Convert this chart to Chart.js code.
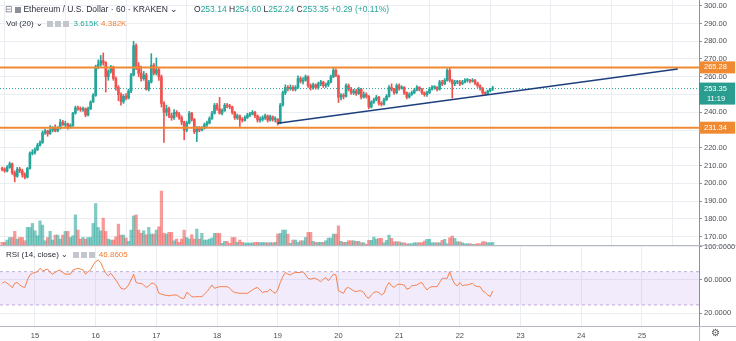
<!DOCTYPE html>
<html>
<head>
<meta charset="utf-8">
<script src="https://cdn.jsdelivr.net/npm/chart.js@4.4.0/dist/chart.umd.min.js"></script>
<style>
body { margin: 0; background: #fff; font-family: "Liberation Sans", Arial, sans-serif; }
#wrap { position: relative; width: 736px; height: 341px; overflow: hidden; }
canvas { position: absolute; left: 0; }
.lg { position: absolute; font-size: 8.5px; color: #2a2e39; white-space: nowrap; }
.ic { display: inline-block; width: 6px; height: 6px; background: #c3c6cc; margin-right: 2px; vertical-align: -1px; }
.up { color: #26a69a; }
.or { color: #f57c2e; }
.line { position: absolute; background: #b5b8c0; }
</style>
</head>
<body>
<div id="wrap">
  <canvas id="price" width="736" height="245" style="top:0"></canvas>
  <canvas id="rsi" width="736" height="103" style="top:238px"></canvas>
  <div class="line" style="left:0;top:245px;width:736px;height:1px"></div>
  <div class="line" style="left:0;top:326px;width:736px;height:1px"></div>
  <div class="line" style="left:699px;top:326px;width:1px;height:15px"></div>

  <div class="lg" style="left:5px;top:4px"><span style="color:#787b86">&#8863;</span> <span class="ic" style="background:#8b8e96"></span>Ethereum / U.S. Dollar · 60 · KRAKEN &#8964;</div>
  <div class="lg" style="left:194px;top:4px">O<span class="up">253.14</span> H<span class="up">254.60</span> L<span class="up">252.24</span> C<span class="up">253.35</span> <span class="up">+0.29 (+0.11%)</span></div>
  <div class="lg" style="left:6px;top:19px;font-size:8px">Vol (20) &#8964; &nbsp;<span class="ic"></span><span class="ic"></span><span class="ic"></span> <span class="up">3.615K</span> <span class="or">4.382K</span></div>
  <div class="lg" style="left:6px;top:250px;font-size:8px">RSI (14, close) &#8964; &nbsp;<span class="ic"></span><span class="ic"></span><span class="ic"></span> <span class="or">46.8605</span></div>
  <div class="lg" style="left:711px;top:327px;font-size:10px;color:#555">&#9881;</div>
</div>

<script>
// hourly bars, first bar = 14th 11:00
const startDay = 14 + 11 / 24;
const days = [15, 16, 17, 18, 19, 20, 21, 22, 23, 24, 25];
const priceTicks = [170, 180, 190, 200, 210, 220, 230, 240, 250, 260, 270, 280, 290, 300];
const rsiTicks = [20, 60, 100];

const firstOpen = 208.5;
const closes = [
  208, 207, 209, 211, 206, 204, 208, 207, 205, 203.5,
  208.5, 217, 217.5, 219, 221.5, 223, 228.5, 229.5, 228, 230,
  231, 229.5, 231, 234.5, 233, 233.5, 232, 232.5, 239.5, 242.5,
  242, 241.5, 242, 238.5, 242, 245.8, 249.5, 265.5, 267, 269,
  268, 260, 263, 265.5, 259, 254, 250, 246, 249, 248,
  252, 261, 277.5, 266, 262, 259, 261, 253, 257, 266.5,
  262, 264, 260, 245, 240, 242, 238, 237, 240, 239,
  237, 234.5, 230, 234, 239.5, 236, 229, 231, 230, 231,
  233, 234, 236.5, 239.5, 244, 242, 239.5, 241, 244, 243.5,
  243, 240, 237, 238, 236, 235.5, 237, 238.5, 239, 240,
  238, 235.6, 236, 237, 238, 235.6, 237.5, 236, 236, 234,
  244, 251, 254, 253.5, 254, 253, 254, 259, 257.5, 258,
  260, 255, 254, 255.5, 254, 256, 257, 255, 255.5, 257,
  260, 263.6, 260.5, 248.5, 249.5, 249, 255, 253, 251, 252,
  250.5, 253, 248.6, 250, 249, 243, 245.8, 247, 248.5, 245,
  244.5, 247, 249, 254, 253, 251, 255, 253.5, 254, 251,
  248.6, 250, 251, 252.5, 254, 253, 251, 250, 251, 253,
  254, 254, 253, 257, 256, 258, 263.6, 258, 256, 257,
  257, 256, 257, 258, 258, 257.5, 258, 256.5, 255, 253.6,
  251, 250.5, 252, 253.14, 253.35
];
const highs = [
  209.2, 208.8, 210, 212, 211.5, 207, 209, 209, 208, 206,
  209, 217.8, 219, 220, 222.5, 224, 229.5, 230.5, 230, 232.5,
  232, 233, 232, 236, 235.5, 235, 234, 233.5, 240, 243.5,
  243.5, 243, 243, 242.5, 243, 246.5, 250.5, 266.5, 269.5, 272,
  273.4, 268.5, 264, 266.5, 266, 260, 255, 251, 250, 250.5,
  253, 262, 280, 278.5, 268, 266, 263, 262, 258, 273,
  267.5, 270.6, 265, 261, 246, 244, 243, 239.5, 241.5, 241,
  240, 238, 235, 235, 240.5, 240, 236.5, 232, 232, 232,
  234, 235, 237.5, 240.5, 245, 245, 248.4, 242, 245, 245,
  244.5, 243.5, 240.5, 239, 238.5, 237, 238, 239.5, 240, 241,
  240.5, 238.5, 237.5, 238, 239, 238.5, 238.5, 238, 237.5, 236.5,
  245, 252, 255.5, 255, 255.5, 255, 255, 260.5, 260, 259.5,
  261, 260.5, 256, 256.5, 256, 257, 258, 257.5, 256.5, 258,
  261, 265, 264.5, 261, 250.5, 250.5, 256, 256, 254, 253,
  253, 254, 253.5, 251.5, 251, 249.5, 246.5, 248, 249.5, 249,
  246, 248, 250, 255, 256, 253.5, 256, 256, 255, 254.5,
  251.5, 251, 252, 253.5, 255, 254.5, 253.5, 251.5, 252, 254,
  255, 255, 254.5, 258, 258, 259, 264.5, 265, 258.5, 258,
  258, 258, 258, 259, 259, 258.5, 259, 258.5, 257, 255.5,
  254, 251.5, 252.5, 253.5, 254.6
];
const lows = [
  207, 206.2, 206.5, 208.5, 205, 200.8, 203.5, 206, 203.5, 202.5,
  203, 208, 216, 216.5, 218.5, 221, 222.5, 227.5, 226.5, 227.5,
  229, 229, 229, 230.5, 232.5, 232, 230.5, 231, 232, 239,
  241, 240.5, 240.5, 237.5, 238, 241.5, 245.5, 249, 264.5, 266,
  266.5, 251.4, 258, 262, 258, 252.5, 246.5, 244, 245, 247,
  247.5, 251, 260.5, 264, 260, 257.5, 258, 252.5, 252, 256.5,
  261, 261, 258, 243, 223, 238, 237, 235.5, 236, 237.5,
  236, 233, 224.5, 229, 233.5, 235, 228, 223.5, 229, 229.5,
  230.5, 232, 233.5, 236, 239, 241, 239, 238.5, 240.5, 242.5,
  242, 239, 236, 236, 232, 234.5, 235, 236.5, 237.5, 238.5,
  237, 234.5, 234.5, 235, 236, 234.5, 235, 235, 234.5, 232.8,
  233.5, 243.5, 250, 252, 252.5, 252, 252, 253.5, 256.5, 256,
  257.5, 254, 252.5, 253, 253, 253, 255, 254, 254, 254.5,
  256.5, 259.5, 260, 245.5, 247, 247.5, 248.5, 252, 250, 250,
  249.5, 250, 247.5, 248, 248, 242, 242.5, 245, 246.5, 244,
  243.5, 244, 246.5, 248.5, 252, 250, 250.5, 252.5, 253, 250,
  247.5, 248, 249.5, 250.5, 252, 252, 250, 249, 249, 250.5,
  252.5, 253, 252, 252.5, 255, 255.5, 257.5, 257, 248, 255,
  256, 255, 255.5, 256.5, 257, 256.5, 257, 255.5, 254, 252.5,
  250, 249.5, 250, 251.5, 252.24
];
// volume in K
const volumes = [
  3.8, 3.8, 7, 10.6, 10.6, 19.2, 8.4, 10.6, 10.6, 6,
  24.8, 24.8, 30.4, 20, 13, 34, 28, 6, 10.6, 19.2,
  7, 14, 14, 8.4, 14, 19.2, 19.2, 10.6, 13, 42.4,
  21, 8.4, 10.6, 8.4, 10.6, 10.6, 30.4, 58.4, 24.8, 20,
  37.8, 19.2, 8.4, 7, 7, 11.6, 29.4, 14, 14, 9.8,
  5.2, 21, 41, 42.4, 21, 16.4, 20, 14.4, 24.8, 15.4,
  15.4, 21, 25.6, 76, 16.4, 15.4, 17.8, 17.8, 6, 8.4,
  3.8, 8.4, 21, 10.6, 8.4, 14.4, 8.4, 22.4, 8.4, 16.4,
  7, 7, 8.4, 9.8, 16.4, 16.4, 16.4, 2.4, 5.2, 5.2,
  2.4, 10.6, 10.6, 3.8, 7, 3.8, 2.8, 2.8, 2.8, 2.8,
  3.8, 3.8, 3.5, 3.5, 3.5, 3.1, 3.5, 3.1, 3.8, 15.4,
  16.4, 21, 21, 15.4, 2.4, 7, 7, 3.8, 6, 6,
  10.6, 17.8, 17.8, 5.2, 3.8, 3.8, 3.8, 3.8, 6, 9.8,
  9.8, 15.4, 15.4, 27, 5.2, 3.8, 3.8, 6, 6, 6,
  5.2, 5.2, 3.2, 3.2, 1, 6.6, 6.6, 11.2, 8, 9.4,
  9.4, 3.2, 6.6, 14, 9.4, 4.6, 4.6, 4.6, 3.2, 3.2,
  1.8, 1.8, 1.8, 3.2, 3.2, 3.2, 3.2, 5.6, 8, 8,
  3.2, 3.2, 3.2, 3.2, 6.6, 8, 1.8, 10.2, 12.6, 9.4,
  4.6, 4.6, 3.2, 1.8, 1.8, 1.8, 1, 1, 1.8, 1.8,
  4.6, 4.6, 3.2, 3.2, 3.615
];
const rsi = [
  56, 58, 56, 54, 50.7, 56, 57, 54, 52, 51,
  60, 66, 68, 69, 70, 74, 71, 72, 73, 69,
  67, 69, 71, 72, 69, 67, 67, 67, 72, 73,
  74, 73, 72, 67, 70, 72, 78, 82, 84, 81,
  74, 68, 65, 68, 64, 60, 55, 50, 49, 50,
  54, 60, 67, 57, 56, 56, 54, 51, 53, 56,
  56, 53, 44, 43, 42, 41.5, 41, 41.5, 42, 42,
  40, 38, 38, 45, 43, 40, 39.6, 40, 40, 40,
  43, 46, 50, 54, 50, 51, 52, 52, 52, 52,
  50, 47, 45, 44.5, 44, 44, 44, 44, 46, 48,
  50, 51, 48, 45, 46, 46, 49, 46, 44, 48,
  57, 64, 69, 67, 66, 68, 69, 69, 69, 70,
  66, 62, 61, 62, 62, 60, 58, 61, 63, 59,
  63, 67, 66, 47, 45.5, 44, 50, 51, 49, 47,
  46, 47, 47, 45, 40, 38, 42, 45, 46, 45,
  42, 44, 52, 57, 53, 51, 54, 55, 54.5, 54,
  49, 50, 53, 53.5, 54, 56, 57, 52, 48, 51,
  52, 52, 52, 57, 62, 62, 62, 70, 61, 55,
  53, 57, 53, 54, 54, 55, 56, 53, 52, 52,
  47, 45, 42, 40, 46.86
];

const levels = [265.28, 231.34];
const lastPrice = 253.35;
const countdown = '11:19';
const trendLine = [{ x: 19.0, y: 233.8 }, { x: 25.59, y: 264.4 }];
const rsiBand = [70, 30];

const xMin = 14.424, xMax = 25.94;
const priceMin = 165.33, priceMax = 303.2;
const rsiMin = 4.75, rsiMax = 102;

const green = '#26a69a', red = '#ef5350', orange = '#ef8a33';
const gridColor = '#eaeef3', axisColor = '#8d9099', textColor = '#4a4d56';

Chart.defaults.font.family = "'Liberation Sans', Arial, sans-serif";

const barX = closes.map((c, i) => startDay + i / 24);
const opens = closes.map((c, i) => i ? closes[i - 1] : firstOpen);
const isUp = closes.map((c, i) => c >= opens[i]);

function xAxis(showTicks) {
  return {
    type: 'linear', min: xMin, max: xMax, offset: false,
    afterBuildTicks: s => { s.ticks = days.map(v => ({ value: v })); },
    afterFit: s => { s.height = showTicks ? 15 : 0; s.paddingLeft = 0; s.paddingRight = 0; },
    grid: { color: gridColor, drawTicks: false },
    border: { display: false },
    ticks: { display: showTicks, color: textColor, font: { size: 7.5 }, padding: 5, maxRotation: 0, autoSkip: false, callback: v => v }
  };
}

function yAxis(min, max, ticks, digits) {
  return {
    position: 'right', min: min, max: max,
    afterBuildTicks: s => { s.ticks = ticks.map(v => ({ value: v })); },
    // keep the scale edges at the pane edges
    afterFit: s => { s.width = 37; s.paddingTop = 0; s.paddingBottom = 0; },
    grid: { color: gridColor, tickLength: 3, tickColor: axisColor },
    border: { color: axisColor },
    ticks: { color: textColor, font: { size: 7.5 }, padding: 2, autoSkip: false, callback: v => v.toFixed(digits) }
  };
}

function hline(y, color, width, dash, order) {
  return {
    type: 'line', data: [{ x: xMin, y: y }, { x: xMax, y: y }],
    borderColor: color, borderWidth: width, borderDash: dash, pointRadius: 0, order: order
  };
}

// price tags on the right axis
const priceTags = {
  id: 'priceTags',
  afterDraw(chart) {
    const ctx = chart.ctx;
    const left = chart.chartArea.right;
    const tag = (value, color, extra) => {
      const py = chart.scales.y.getPixelForValue(value);
      const h = extra ? 22 : 12;
      ctx.fillStyle = color;
      ctx.fillRect(left, py - 6, 36, h);
      ctx.fillStyle = '#fff';
      ctx.font = "7.5px 'Liberation Sans', Arial, sans-serif";
      ctx.textBaseline = 'middle';
      ctx.fillText(value.toFixed(2), left + 5, py);
      if (extra) ctx.fillText(extra, left + 8, py + 10);
    };
    tag(levels[0], orange);
    tag(lastPrice, '#2a9d90', countdown);
    tag(levels[1], orange);
  }
};

new Chart(document.getElementById('price'), {
  type: 'bar',
  data: {
    datasets: [
      {
        yAxisID: 'v', grouped: false, order: 5, barThickness: 2.6,
        data: volumes.map((v, i) => ({ x: barX[i], y: v })),
        backgroundColor: isUp.map(u => u ? 'rgba(38,166,154,0.58)' : 'rgba(239,83,80,0.58)')
      },
      {
        yAxisID: 'y', grouped: false, order: 4, barThickness: 1,
        data: closes.map((c, i) => ({ x: barX[i], y: [lows[i], highs[i]] })),
        backgroundColor: isUp.map(u => u ? green : red)
      },
      {
        yAxisID: 'y', grouped: false, order: 3, barThickness: 2, minBarLength: 1,
        data: closes.map((c, i) => ({ x: barX[i], y: [opens[i], c] })),
        backgroundColor: isUp.map(u => u ? green : red)
      },
      hline(lastPrice, green, 1, [1, 2], 2),
      hline(levels[0], orange, 2, [], 1),
      hline(levels[1], orange, 2, [], 1),
      {
        type: 'line', data: trendLine, borderColor: '#1d3f7e', borderWidth: 1.5, pointRadius: 0, order: 0
      }
    ]
  },
  options: {
    responsive: false, animation: false, devicePixelRatio: 1,
    layout: { padding: 0 },
    plugins: { legend: { display: false }, tooltip: { enabled: false } },
    scales: {
      x: xAxis(false),
      y: yAxis(priceMin, priceMax, priceTicks, 2),
      v: { display: false, min: 0, max: 345 }
    }
  },
  plugins: [priceTags]
});

new Chart(document.getElementById('rsi'), {
  type: 'line',
  data: {
    datasets: [
      Object.assign(hline(rsiBand[0], '#bfaed6', 1, [3, 3], 3), { fill: '+1', backgroundColor: 'rgba(160,110,235,0.14)' }),
      hline(rsiBand[1], '#bfaed6', 1, [3, 3], 3),
      {
        data: rsi.map((v, i) => ({ x: barX[i], y: v })),
        borderColor: '#f5804a', borderWidth: 1, pointRadius: 0, tension: 0, order: 1
      }
    ]
  },
  options: {
    responsive: false, animation: false, devicePixelRatio: 1,
    layout: { padding: { top: 7, left: 0, right: 0, bottom: 0 } },
    plugins: { legend: { display: false }, tooltip: { enabled: false } },
    scales: {
      x: xAxis(true),
      y: yAxis(rsiMin, rsiMax, rsiTicks, 4)
    }
  }
});
</script>
</body>
</html>
